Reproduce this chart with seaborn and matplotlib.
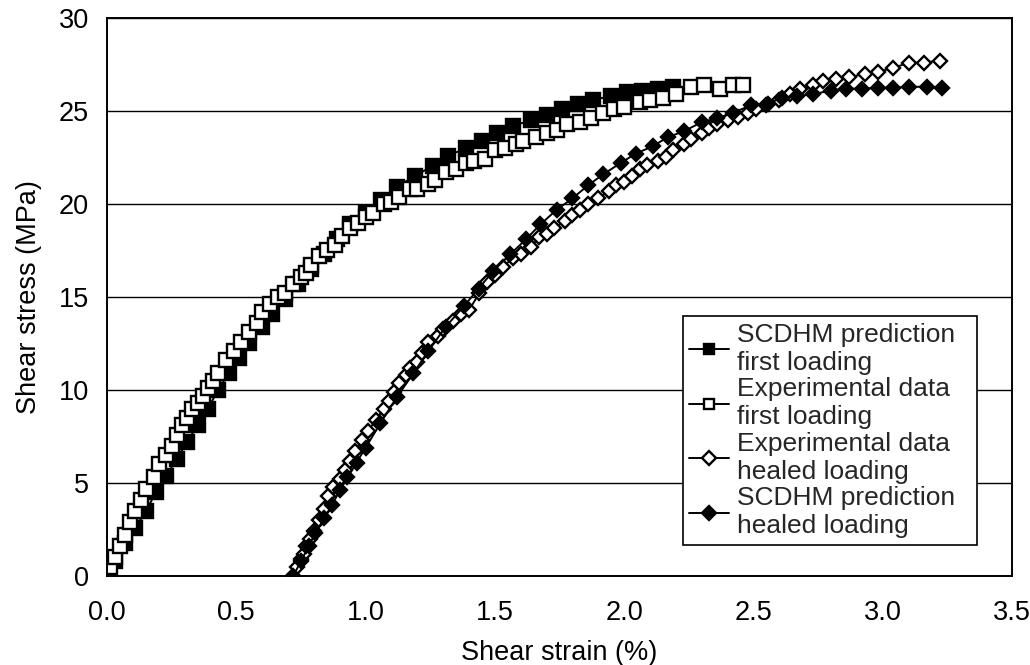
import matplotlib
matplotlib.use("Agg")
import matplotlib.pyplot as plt
import seaborn as sns
import pandas as pd

# SCDHM prediction, first loading (strain %, stress MPa)
pred_first_x = [0.00, 0.03, 0.07, 0.11, 0.15, 0.19, 0.23, 0.27, 0.31, 0.35, 0.39, 0.43,
                0.47, 0.51, 0.55, 0.60, 0.64, 0.69, 0.74, 0.79, 0.84, 0.89, 0.94, 1.00,
                1.06, 1.12, 1.19, 1.26, 1.32, 1.39, 1.45, 1.51, 1.57, 1.64, 1.70, 1.76,
                1.82, 1.88, 1.95, 2.01, 2.07, 2.13, 2.19]
pred_first_y = [0.0, 0.8, 1.8, 2.6, 3.5, 4.5, 5.4, 6.3, 7.2, 8.1, 9.0, 10.0,
                10.9, 11.7, 12.5, 13.4, 14.1, 14.9, 15.7, 16.5, 17.3, 18.1, 18.9, 19.5,
                20.2, 20.9, 21.5, 22.05, 22.6, 23.0, 23.4, 23.8, 24.2, 24.5, 24.8, 25.1,
                25.4, 25.6, 25.8, 26.0, 26.1, 26.2, 26.3]

# Experimental data, first loading
exp_first_x = [0.00, 0.01, 0.03, 0.05, 0.07, 0.09, 0.11, 0.13, 0.15, 0.18, 0.20, 0.23,
               0.25, 0.27, 0.29, 0.31, 0.33, 0.35, 0.37, 0.39, 0.41, 0.43, 0.46, 0.49,
               0.52, 0.55, 0.58, 0.60, 0.63, 0.66, 0.69, 0.72, 0.75, 0.77, 0.79, 0.82,
               0.85, 0.88, 0.91, 0.94, 0.97, 1.00, 1.03, 1.07, 1.10, 1.13, 1.17, 1.20,
               1.24, 1.27, 1.31, 1.35, 1.39, 1.42, 1.46, 1.50, 1.54, 1.58, 1.61, 1.66,
               1.70, 1.74, 1.78, 1.83, 1.87, 1.92, 1.96, 2.00, 2.06, 2.10, 2.15, 2.20,
               2.26, 2.31, 2.37, 2.42, 2.46]
exp_first_y = [0.0, 0.5, 1.0, 1.6, 2.2, 2.9, 3.5, 4.1, 4.7, 5.3, 6.0, 6.5,
               7.0, 7.6, 8.1, 8.5, 9.0, 9.3, 9.7, 10.1, 10.5, 10.9, 11.6, 12.1,
               12.6, 13.1, 13.6, 14.2, 14.6, 15.0, 15.2, 15.7, 16.1, 16.3, 16.7, 17.2,
               17.5, 17.8, 18.3, 18.7, 19.0, 19.3, 19.5, 20.0, 20.1, 20.4, 20.8, 20.8,
               21.1, 21.3, 21.7, 21.9, 22.2, 22.3, 22.4, 22.9, 23.0, 23.2, 23.4, 23.6,
               23.8, 24.0, 24.3, 24.4, 24.6, 24.9, 25.1, 25.2, 25.5, 25.6, 25.7, 25.9,
               26.3, 26.4, 26.2, 26.4, 26.4]

# Experimental data, healed loading
exp_healed_x = [0.72, 0.735, 0.75, 0.76, 0.77, 0.785, 0.80, 0.82, 0.84, 0.855, 0.875, 0.90,
                0.92, 0.94, 0.96, 0.985, 1.01, 1.04, 1.07, 1.09, 1.11, 1.13, 1.155, 1.17,
                1.20, 1.22, 1.24, 1.28, 1.30, 1.34, 1.37, 1.40, 1.44, 1.47, 1.50, 1.53,
                1.57, 1.60, 1.64, 1.67, 1.70, 1.73, 1.77, 1.80, 1.83, 1.86, 1.90, 1.94,
                1.97, 2.00, 2.03, 2.06, 2.09, 2.13, 2.16, 2.19, 2.23, 2.26, 2.30, 2.33,
                2.36, 2.40, 2.44, 2.48, 2.51, 2.55, 2.60, 2.64, 2.68, 2.73, 2.77, 2.82,
                2.87, 2.93, 2.98, 3.04, 3.10, 3.16, 3.22]
exp_healed_y = [0.0, 0.5, 0.9, 1.2, 1.6, 2.0, 2.4, 3.0, 3.6, 4.3, 4.8, 5.2,
                5.7, 6.2, 6.7, 7.3, 7.8, 8.4, 9.0, 9.4, 9.9, 10.4, 10.8, 11.2,
                11.5, 12.0, 12.6, 12.9, 13.3, 13.7, 14.1, 14.3, 15.2, 15.8, 16.2, 16.6,
                17.1, 17.3, 17.7, 18.2, 18.4, 18.7, 19.1, 19.4, 19.7, 20.0, 20.3, 20.7,
                21.0, 21.2, 21.5, 21.9, 22.1, 22.3, 22.5, 22.9, 23.2, 23.5, 23.8, 24.1,
                24.3, 24.5, 24.7, 24.9, 25.1, 25.3, 25.6, 25.9, 26.2, 26.4, 26.6, 26.7,
                26.8, 27.0, 27.1, 27.3, 27.6, 27.6, 27.7]

# SCDHM prediction, healed loading
pred_healed_x = [0.72, 0.75, 0.78, 0.805, 0.84, 0.87, 0.90, 0.93, 0.965, 1.00, 1.057, 1.12,
                 1.185, 1.243, 1.31, 1.38, 1.437, 1.494, 1.56, 1.62, 1.676, 1.74, 1.80, 1.86,
                 1.92, 1.986, 2.044, 2.11, 2.17, 2.23, 2.30, 2.36, 2.42, 2.49, 2.555, 2.61,
                 2.67, 2.73, 2.80, 2.86, 2.92, 2.98, 3.04, 3.10, 3.17, 3.23]
pred_healed_y = [0.0, 0.8, 1.6, 2.3, 3.1, 3.8, 4.6, 5.3, 6.1, 6.9, 8.2, 9.6,
                 10.9, 12.1, 13.4, 14.5, 15.45, 16.4, 17.3, 18.1, 18.9, 19.7, 20.3, 21.0,
                 21.6, 22.2, 22.7, 23.1, 23.6, 23.9, 24.4, 24.6, 24.9, 25.3, 25.4, 25.7,
                 25.8, 25.9, 26.1, 26.2, 26.2, 26.25, 26.25, 26.3, 26.3, 26.25]

series_labels = ["SCDHM prediction\nfirst loading",
                 "Experimental data\nfirst loading",
                 "Experimental data\nhealed loading",
                 "SCDHM prediction\nhealed loading"]

x_ticks = [0.0, 0.5, 1.0, 1.5, 2.0, 2.5, 3.0, 3.5]
y_ticks = [0, 5, 10, 15, 20, 25, 30]

sns.set_style("white")
plt.rcParams["font.family"] = ["Liberation Sans", "DejaVu Sans"]

FS = 19.5
LEG_FS = 19

fig = plt.figure(figsize=(10.30, 6.65), dpi=100)
ax = fig.add_axes([0.1039, 0.1338, 0.8786, 0.8392])

series = [
    (pred_first_x, pred_first_y, dict(marker="s", markersize=10, markerfacecolor="black")),
    (exp_first_x, exp_first_y, dict(marker="s", markersize=10.5, markerfacecolor="white")),
    (exp_healed_x, exp_healed_y, dict(marker="D", markersize=7.5, markerfacecolor="white")),
    (pred_healed_x, pred_healed_y, dict(marker="D", markersize=7.5, markerfacecolor="black")),
]

for (xs, ys, style), label in zip(series, series_labels):
    df = pd.DataFrame({"strain": xs, "stress": ys})
    sns.lineplot(data=df, x="strain", y="stress", ax=ax, color="black",
                 linewidth=1.4, markeredgecolor="black", markeredgewidth=1.7,
                 estimator=None, sort=False, label=label, **style)

ax.set_xlim(0, 3.5)
ax.set_ylim(0, 30)
ax.set_xticks(x_ticks)
ax.set_xticklabels([f"{t:.1f}" for t in x_ticks])
ax.set_yticks(y_ticks)
ax.set_yticklabels([str(t) for t in y_ticks])

ax.yaxis.grid(True, color="black", linewidth=1.0)
ax.xaxis.grid(False)
ax.set_axisbelow(True)
for sp in ax.spines.values():
    sp.set_color("black")
    sp.set_linewidth(1.4)
    sp.set_visible(True)

ax.tick_params(axis="both", direction="out", length=8, width=1.2, color="black",
               labelsize=FS, labelcolor="black", pad=5)
ax.tick_params(axis="x", pad=9)
ax.set_xlabel("Shear strain (%)", fontsize=FS, color="black", labelpad=10)
ax.set_ylabel("Shear stress (MPa)", fontsize=FS, color="black", labelpad=12)

leg = ax.legend(loc="lower left", bbox_to_anchor=(0.636, 0.056, 0.325, 0.48),
                mode="expand", frameon=True, fancybox=False, framealpha=1,
                edgecolor="black", fontsize=LEG_FS, handlelength=1.5, handletextpad=0.3,
                labelspacing=0.1, borderpad=0.25, borderaxespad=0)
leg.get_frame().set_linewidth(1.2)
for h in leg.legend_handles:
    h.set_markersize(7)

fig.savefig("out.png", dpi=100, facecolor="white")
